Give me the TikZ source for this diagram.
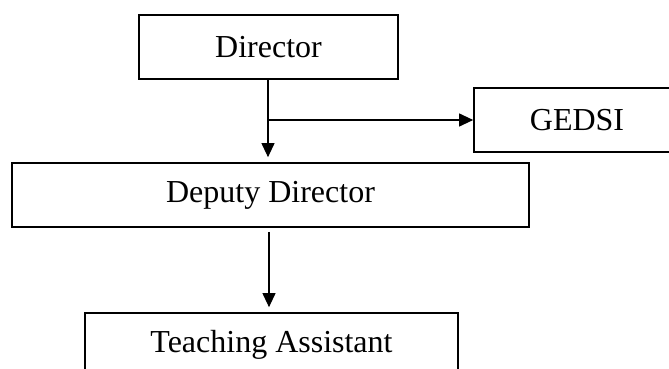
\documentclass[tikz,border=0pt]{standalone}
\usepackage{fontspec}
\setmainfont{Liberation Serif}
\usetikzlibrary{arrows.meta}
\begin{document}
\begin{tikzpicture}[x=0.5pt, y=-0.5pt,
    unit/.style={draw, line width=0.85pt, minimum height=32pt, inner sep=0pt,
      font=\fontsize{16}{19}\selectfont},
    link/.style={line width=0.55pt, -{Triangle[length=7pt, width=6.5pt]}}]
  \clip (0,0) rectangle (669,369);

  % Boxes of the chart
  \node[unit, minimum width=129.5pt] (dir) at (268.5,47) {Director};
  \node[unit, minimum width=103pt] (gedsi) at (577,120) {GEDSI};
  \node[unit, minimum width=258.5pt] (dep) at (270.5,195) {Deputy Director};
  \node[unit, minimum width=186.5pt] (ta) at (271.5,345) {Teaching Assistant};

  % Branch point on the first arrow
  \coordinate (br) at (268,120);

  % Arrows
  \draw[link, shorten >=5pt*0.5] (dir.south -| br) -- (dep.north -| br);
  \draw[link] (br) -- (gedsi.west);
  \draw[link, shorten <=2pt, shorten >=2.5pt] (dep.south -| 269,0) -- (ta.north -| 269,0);
\end{tikzpicture}
\end{document}
